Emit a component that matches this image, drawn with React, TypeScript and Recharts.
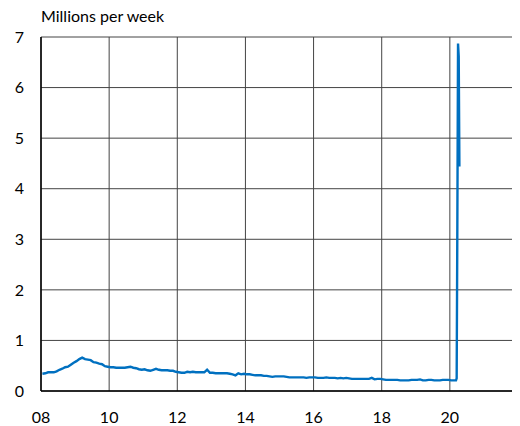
import React from "react";
import { LineChart, Line, XAxis, YAxis, CartesianGrid, ReferenceLine } from "recharts";

// Monthly initial claims (millions per week), Jan..Dec for each year
const years = [2008, 2009, 2010, 2011, 2012, 2013, 2014, 2015, 2016, 2017, 2018, 2019];
const claims2008 = [0.34, 0.35, 0.37, 0.37, 0.37, 0.39, 0.42, 0.44, 0.47, 0.48, 0.52, 0.56];
const claims2009 = [0.59, 0.63, 0.66, 0.63, 0.62, 0.61, 0.57, 0.56, 0.54, 0.53, 0.49, 0.48];
const claims2010 = [0.47, 0.47, 0.46, 0.46, 0.46, 0.46, 0.47, 0.48, 0.46, 0.45, 0.43, 0.42];
const claims2011 = [0.43, 0.41, 0.40, 0.42, 0.44, 0.42, 0.41, 0.41, 0.41, 0.40, 0.40, 0.38];
const claims2012 = [0.37, 0.36, 0.36, 0.38, 0.37, 0.38, 0.37, 0.37, 0.37, 0.37, 0.42, 0.36];
const claims2013 = [0.36, 0.35, 0.35, 0.35, 0.35, 0.35, 0.34, 0.33, 0.31, 0.35, 0.33, 0.34];
const claims2014 = [0.33, 0.33, 0.32, 0.31, 0.31, 0.31, 0.30, 0.30, 0.29, 0.28, 0.29, 0.29];
const claims2015 = [0.29, 0.29, 0.28, 0.27, 0.27, 0.27, 0.27, 0.27, 0.27, 0.26, 0.27, 0.27];
const claims2016 = [0.27, 0.26, 0.26, 0.26, 0.27, 0.26, 0.26, 0.26, 0.25, 0.26, 0.25, 0.26];
const claims2017 = [0.25, 0.24, 0.24, 0.24, 0.24, 0.24, 0.24, 0.24, 0.26, 0.23, 0.24, 0.24];
const claims2018 = [0.23, 0.22, 0.22, 0.22, 0.22, 0.22, 0.21, 0.21, 0.21, 0.21, 0.22, 0.22];
const claims2019 = [0.22, 0.23, 0.21, 0.21, 0.22, 0.22, 0.21, 0.21, 0.21, 0.22, 0.22, 0.22];
const monthly = [claims2008, claims2009, claims2010, claims2011, claims2012, claims2013,
  claims2014, claims2015, claims2016, claims2017, claims2018, claims2019];

// 2020 weekly readings (fractional year, millions)
const weeks2020 = [2020.04, 2020.12, 2020.18, 2020.2, 2020.22, 2020.24, 2020.26, 2020.28];
const claims2020 = [0.21, 0.21, 0.21, 0.25, 3.31, 6.87, 6.62, 4.44];

const xTicks = [2008, 2010, 2012, 2014, 2016, 2018, 2020, 2022];
const yTicks = [0, 1, 2, 3, 4, 5, 6, 7];

const data: { t: number; v: number }[] = [];
monthly.forEach((arr, i) => {
  arr.forEach((v, m) => data.push({ t: years[i] + (m + 0.5) / 12, v }));
});
weeks2020.forEach((t, i) => data.push({ t, v: claims2020[i] }));

const font = "Lato, 'Open Sans', sans-serif";

export default function App() {
  return (
    <div style={{ position: "relative", width: 512, height: 418, fontFamily: font }}>
      <div style={{ position: "absolute", left: 33, top: 0, fontSize: 16, color: "#000", lineHeight: "16px" }}>
        Millions per week
      </div>
      <LineChart width={512} height={418} data={data} margin={{ top: 29, right: 2, bottom: 0, left: 0 }}>
        <CartesianGrid stroke="#444" strokeWidth={1} />
        <XAxis
          dataKey="t"
          type="number"
          domain={[2008, 2022]}
          ticks={xTicks}
          allowDataOverflow
          tickFormatter={(v: number) => (v === 2022 ? "" : String(v).slice(2))}
          tickLine={false}
          tickSize={0}
          tickMargin={21}
          height={35}
          axisLine={{ stroke: "#000", strokeWidth: 1.5 }}
          tick={{ fill: "#000", fontSize: 16, fontFamily: font }}
        />
        <YAxis
          type="number"
          domain={[0, 7]}
          ticks={yTicks}
          width={33}
          tickLine={false}
          tickSize={0}
          tickMargin={17}
          axisLine={{ stroke: "#000", strokeWidth: 1.5 }}
          tick={{ fill: "#000", fontSize: 16, fontFamily: font }}
        />
        <ReferenceLine x={2022} stroke="#000" strokeWidth={2} />
        <Line
          dataKey="v"
          type="linear"
          stroke="#0070C0"
          strokeWidth={2.4}
          dot={false}
          isAnimationActive={false}
        />
      </LineChart>
    </div>
  );
}
